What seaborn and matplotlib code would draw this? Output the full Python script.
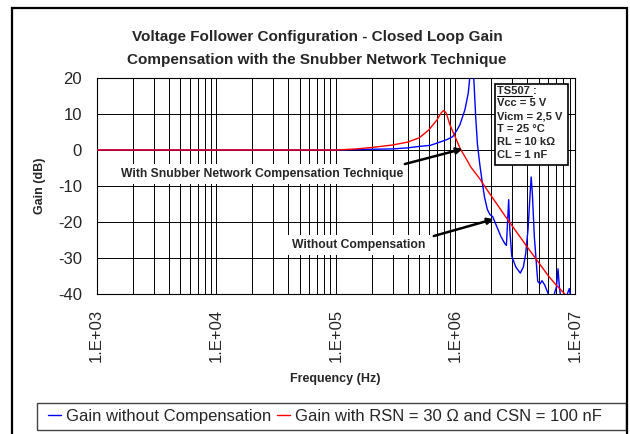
import pandas as pd
import matplotlib.pyplot as plt
import seaborn as sns
from matplotlib.ticker import FixedLocator, LogLocator, NullFormatter
from matplotlib.patches import Rectangle
from matplotlib.lines import Line2D

# curves (Hz, dB)
freq_blue = [1e3, 1e4, 1e5, 2e5, 3e5, 4e5, 5e5, 6.2e5, 7e5, 8e5, 8.5e5, 9.5e5,
             1.03e6, 1.09e6, 1.2e6, 1.28e6, 1.31e6, 1.37e6, 1.43e6, 1.48e6, 1.53e6,
             1.6e6, 1.67e6, 1.75e6, 1.85e6, 1.95e6, 2.05e6, 2.17e6, 2.4e6, 2.59e6,
             2.67e6, 2.73e6, 2.79e6, 2.85e6, 2.96e6, 3.2e6, 3.49e6, 3.7e6, 3.87e6,
             4.05e6, 4.2e6, 4.3e6, 4.4e6, 4.57e6, 4.88e6, 5.1e6, 5.3e6, 5.58e6,
             5.98e6, 6.5e6, 7.0e6, 7.21e6, 7.4e6, 7.67e6, 8.3e6, 8.96e6, 9.3e6]
gain_blue = [0, 0, 0, 0.2, 0.3, 0.6, 1.0, 1.3, 1.9, 2.6, 2.9, 3.7,
             5.5, 7.0, 11.1, 15.7, 19, 27, 19, 9, 1.5,
             -4, -8.5, -13, -16.5, -18, -18.5, -20.5, -24, -26,
             -26.5, -20, -13.8, -22, -29.5, -32.5, -34.2, -32.5, -28.8,
             -22, -13, -7.5, -12, -24, -36.5, -37.2, -36.3, -37.5,
             -40, -41.5, -38, -33, -38, -42, -41.5, -38.5, -42]

freq_red = [1e3, 1e4, 1e5, 1.5e5, 2e5, 3e5, 4e5, 5e5, 6e5, 7e5, 7.6e5, 8e5, 8.4e5,
            9e5, 9.5e5, 1e6, 1.1e6, 1.2e6, 1.35e6, 1.6e6, 1.8e6, 2.2e6, 2.6e6,
            3e6, 3.5e6, 4e6, 5e6, 6e6, 7e6, 8.5e6]
gain_red = [0, 0, 0, 0.3, 0.7, 1.4, 2.2, 3.4, 5.6, 8.3, 10.3, 11.0, 10.2,
            7.0, 5.2, 3.5, 0.3, -1.8, -4.8, -8.0, -10.6, -14.8, -18.3,
            -21.2, -24.3, -27.0, -31.4, -35.0, -37.6, -40.5]

label_blue = 'Gain without Compensation'
label_red = 'Gain with RSN = 30 Ω and CSN = 100 nF'
x_ticks = [1e3, 1e4, 1e5, 1e6, 1e7]
x_tick_labels = ['1.E+03', '1.E+04', '1.E+05', '1.E+06', '1.E+07']
y_ticks = [-40, -30, -20, -10, 0, 10, 20]
info_title = 'TS507 :'
info_lines = ['Vcc = 5 V', 'Vicm = 2,5 V', 'T = 25 °C', 'RL = 10 kΩ', 'CL = 1 nF']

df = pd.concat([
    pd.DataFrame({'freq': freq_blue, 'gain': gain_blue, 'curve': label_blue}),
    pd.DataFrame({'freq': freq_red, 'gain': gain_red, 'curve': label_red}),
])

sns.set_style('white')
plt.rcParams['font.family'] = ['Liberation Sans', 'DejaVu Sans']

W, H = 630, 434
def fx(x):
    return x / W
def fy(y):
    return 1 - y / H

fig = plt.figure(figsize=(6.3, 4.34), dpi=100)
ax = fig.add_axes([fx(96.5), fy(294), fx(575) - fx(96.5), fy(78) - fy(294)])

sns.lineplot(data=df, x='freq', y='gain', hue='curve',
             palette={label_blue: '#0000ff', label_red: '#ff0000'},
             linewidth=1.0, ax=ax, sort=False, estimator=None, zorder=3)
ax.get_legend().remove()

ax.set_xscale('log')
ax.set_xlim(1e3, 1e7)
ax.set_ylim(-40, 20)
ax.xaxis.set_major_locator(FixedLocator(x_ticks))
ax.set_xticklabels(x_tick_labels, rotation=90, fontsize=12)
ax.xaxis.set_minor_locator(LogLocator(base=10, subs=range(2, 10)))
ax.xaxis.set_minor_formatter(NullFormatter())
ax.set_yticks(y_ticks)
ax.set_yticklabels([str(v) for v in y_ticks], fontsize=12)
ax.tick_params(axis='both', which='major', direction='out', length=4.5,
               width=0.8, color='black', pad=6)
ax.tick_params(axis='x', which='minor', length=0)
ax.grid(True, which='both', axis='x', color='black', linewidth=0.7)
ax.grid(True, which='major', axis='y', color='black', linewidth=0.7)
ax.set_axisbelow(True)
for s in ax.spines.values():
    s.set_color('black')
    s.set_linewidth(0.8)
ax.set_xlabel('')
ax.set_ylabel('')

# titles and axis labels
fig.text(fx(317), fy(37), 'Voltage Follower Configuration - Closed Loop Gain',
         ha='center', va='center', fontsize=11, fontweight='bold')
fig.text(fx(317), fy(60), 'Compensation with the Snubber Network Technique',
         ha='center', va='center', fontsize=11, fontweight='bold')
fig.text(fx(40), fy(186), 'Gain (dB)', rotation=90, ha='center', va='center',
         fontsize=9, fontweight='bold')
fig.text(fx(335), fy(379), 'Frequency (Hz)', ha='center', va='center',
         fontsize=9, fontweight='bold')

# arrows with labels
arrow = dict(arrowstyle='-|>', color='black', lw=1.8, mutation_scale=9,
             shrinkA=0, shrinkB=0)
ax.annotate('', xy=(1.15e6, 0.3), xytext=(3.78e5, -3.9), arrowprops=arrow, zorder=5)
ax.annotate('', xy=(2.09e6, -19.2), xytext=(6.6e5, -23.9), arrowprops=arrow, zorder=5)
ax.text(2.42e4, -6.6, 'With Snubber Network Compensation Technique', ha='center',
        va='center', fontsize=8.7, fontweight='bold', zorder=4,
        bbox=dict(facecolor='white', edgecolor='none', pad=3))
ax.text(1.56e5, -26.4, 'Without Compensation', ha='center', va='center',
        fontsize=8.7, fontweight='bold', zorder=4,
        bbox=dict(facecolor='white', edgecolor='none', pad=3))

# info box
fig.add_artist(Rectangle((fx(495), fy(165)), fx(567.5) - fx(495), fy(84) - fy(165),
                         transform=fig.transFigure, facecolor='white',
                         edgecolor='black', linewidth=1.2, zorder=6))
fig.text(fx(497), fy(90.7), info_title, ha='left', va='center', fontsize=8,
         fontweight='bold', zorder=7)
fig.add_artist(Line2D([fx(497), fx(531.5)], [fy(96), fy(96)],
                      transform=fig.transFigure, color='black', lw=0.8, zorder=7))
for i, line in enumerate(info_lines):
    fig.text(fx(497), fy(103.3 + 12.9 * i), line, ha='left', va='center',
             fontsize=8, fontweight='bold', zorder=7)

# legend below
fig.add_artist(Rectangle((fx(37), fy(430)), fx(626) - fx(37), fy(403) - fy(430),
                         transform=fig.transFigure, facecolor='white',
                         edgecolor='#444444', linewidth=1.0))
handles = [Line2D([], [], color='#0000ff', lw=1.0), Line2D([], [], color='#ff0000', lw=1.0)]
fig.legend(handles, [label_blue, label_red], loc='center left',
           bbox_to_anchor=(fx(48), fy(416.5)), ncol=2, frameon=False,
           fontsize=12, handlelength=0.75, handletextpad=0.3, columnspacing=0.4,
           borderpad=0, borderaxespad=0)

# outer frame of the figure panel
fig.add_artist(Rectangle((fx(12), -0.05), fx(627) - fx(12), fy(8) + 0.05,
                         transform=fig.transFigure, facecolor='none',
                         edgecolor='black', linewidth=1.6))

fig.savefig('out.png', dpi=100)
